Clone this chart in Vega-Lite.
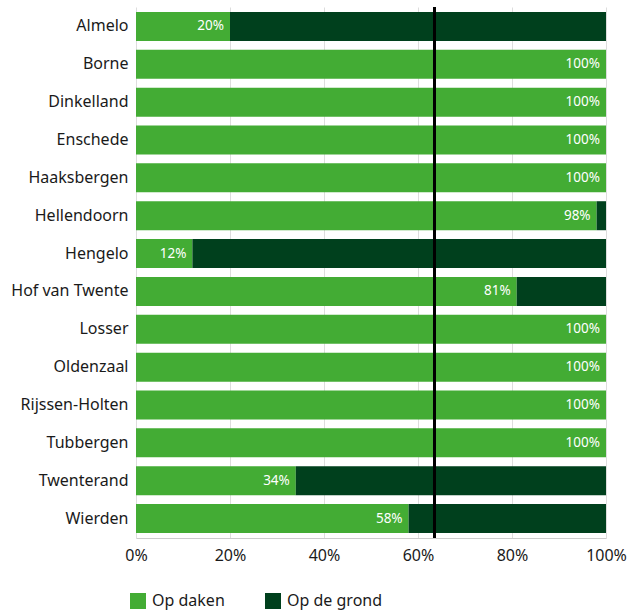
{
  "$schema": "https://vega.github.io/schema/vega-lite/v6.json",
  "autosize": {"type": "none"},
  "padding": {"left": 136, "top": 7, "right": 22, "bottom": 72},
  "width": 470,
  "height": 531,
  "config": {
    "font": "Noto Sans",
    "view": {"stroke": null}
  },
  "data": {
    "values": [
      {"gemeente": "Almelo", "type": "Op daken", "aandeel": 0.20},
      {"gemeente": "Almelo", "type": "Op de grond", "aandeel": 0.80},
      {"gemeente": "Borne", "type": "Op daken", "aandeel": 1.00},
      {"gemeente": "Borne", "type": "Op de grond", "aandeel": 0.00},
      {"gemeente": "Dinkelland", "type": "Op daken", "aandeel": 1.00},
      {"gemeente": "Dinkelland", "type": "Op de grond", "aandeel": 0.00},
      {"gemeente": "Enschede", "type": "Op daken", "aandeel": 1.00},
      {"gemeente": "Enschede", "type": "Op de grond", "aandeel": 0.00},
      {"gemeente": "Haaksbergen", "type": "Op daken", "aandeel": 1.00},
      {"gemeente": "Haaksbergen", "type": "Op de grond", "aandeel": 0.00},
      {"gemeente": "Hellendoorn", "type": "Op daken", "aandeel": 0.98},
      {"gemeente": "Hellendoorn", "type": "Op de grond", "aandeel": 0.02},
      {"gemeente": "Hengelo", "type": "Op daken", "aandeel": 0.12},
      {"gemeente": "Hengelo", "type": "Op de grond", "aandeel": 0.88},
      {"gemeente": "Hof van Twente", "type": "Op daken", "aandeel": 0.81},
      {"gemeente": "Hof van Twente", "type": "Op de grond", "aandeel": 0.19},
      {"gemeente": "Losser", "type": "Op daken", "aandeel": 1.00},
      {"gemeente": "Losser", "type": "Op de grond", "aandeel": 0.00},
      {"gemeente": "Oldenzaal", "type": "Op daken", "aandeel": 1.00},
      {"gemeente": "Oldenzaal", "type": "Op de grond", "aandeel": 0.00},
      {"gemeente": "Rijssen-Holten", "type": "Op daken", "aandeel": 1.00},
      {"gemeente": "Rijssen-Holten", "type": "Op de grond", "aandeel": 0.00},
      {"gemeente": "Tubbergen", "type": "Op daken", "aandeel": 1.00},
      {"gemeente": "Tubbergen", "type": "Op de grond", "aandeel": 0.00},
      {"gemeente": "Twenterand", "type": "Op daken", "aandeel": 0.34},
      {"gemeente": "Twenterand", "type": "Op de grond", "aandeel": 0.66},
      {"gemeente": "Wierden", "type": "Op daken", "aandeel": 0.58},
      {"gemeente": "Wierden", "type": "Op de grond", "aandeel": 0.42}
    ]
  },
  "layer": [
    {
      "mark": {"type": "bar"},
      "encoding": {
        "y": {
          "field": "gemeente",
          "type": "nominal",
          "sort": null,
          "title": null,
          "scale": {"paddingInner": 0.234, "paddingOuter": 0.13},
          "axis": {
            "ticks": false,
            "domain": false,
            "labelFontSize": 16,
            "labelColor": "#1a1a1a",
            "labelPadding": 8
          }
        },
        "x": {
          "field": "aandeel",
          "type": "quantitative",
          "stack": "zero",
          "title": null,
          "scale": {"domain": [0, 1]},
          "axis": {
            "format": ".0%",
            "values": [0, 0.2, 0.4, 0.6, 0.8, 1],
            "ticks": false,
            "labelFlush": false,
            "gridColor": "#dddddd",
            "domainColor": "#cccccc",
            "labelFontSize": 16,
            "labelColor": "#1a1a1a",
            "labelPadding": 9
          }
        },
        "color": {
          "field": "type",
          "type": "nominal",
          "scale": {
            "domain": ["Op daken", "Op de grond"],
            "range": ["#43ac34", "#00401d"]
          },
          "legend": {
            "title": null,
            "orient": "none",
            "direction": "horizontal",
            "legendX": -6,
            "legendY": 586,
            "symbolType": "square",
            "symbolSize": 256,
            "symbolStrokeWidth": 0,
            "labelFontSize": 16,
            "labelColor": "#1a1a1a",
            "labelOffset": 6,
            "columnPadding": 40,
            "padding": 0
          }
        },
        "order": {"field": "type", "sort": "ascending"}
      }
    },
    {
      "transform": [{"filter": "datum.type === 'Op daken'"}],
      "mark": {"type": "text", "align": "right", "dx": -6, "color": "white", "fontSize": 13.5},
      "encoding": {
        "y": {"field": "gemeente", "type": "nominal", "sort": null},
        "x": {"field": "aandeel", "type": "quantitative"},
        "text": {"field": "aandeel", "type": "quantitative", "format": ".0%"}
      }
    },
    {
      "mark": {"type": "rule", "color": "black", "strokeWidth": 2.5},
      "encoding": {"x": {"datum": 0.635}}
    }
  ]
}
